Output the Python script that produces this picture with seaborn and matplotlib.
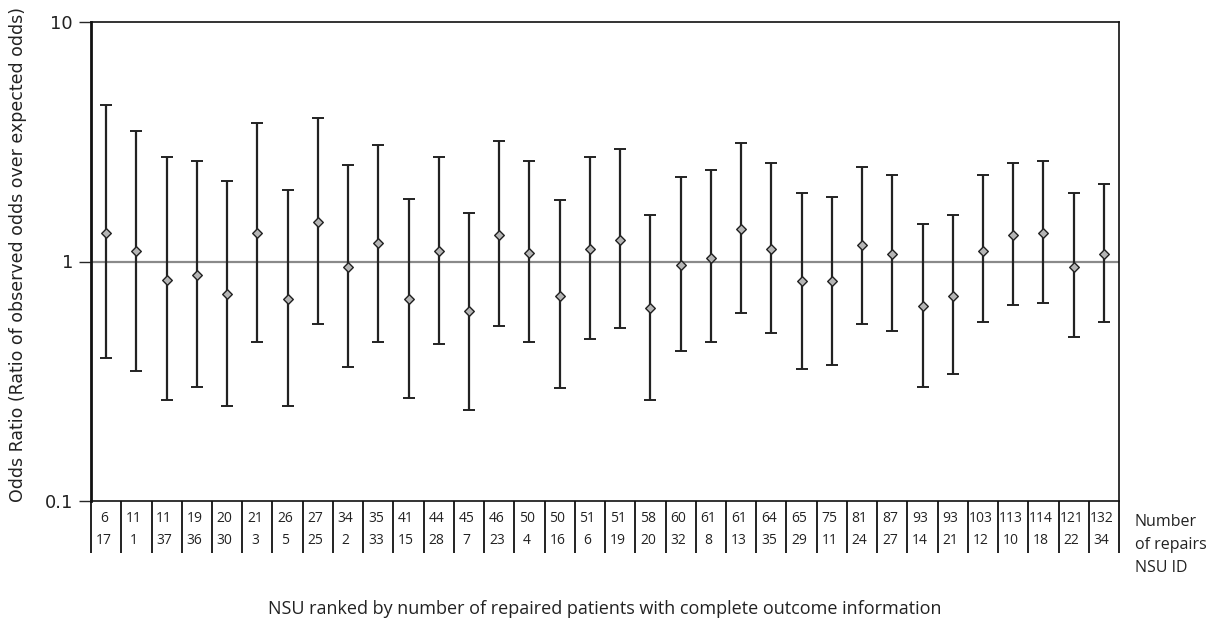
import numpy as np
import matplotlib
matplotlib.use("Agg")
import matplotlib.pyplot as plt
import matplotlib.transforms as mtransforms
import seaborn as sns

# NSUs ranked by number of repairs
n_repairs = [6, 11, 11, 19, 20, 21, 26, 27, 34, 35, 41, 44, 45, 46, 50, 50, 51,
             51, 58, 60, 61, 61, 64, 65, 75, 81, 87, 93, 93, 103, 113, 114, 121, 132]
nsu_id = [17, 1, 37, 36, 30, 3, 5, 25, 2, 33, 15, 28, 7, 23, 4, 16, 6,
          19, 20, 32, 8, 13, 35, 29, 11, 24, 27, 14, 21, 12, 10, 18, 22, 34]

odds_ratio = [1.32, 1.11, 0.84, 0.88, 0.735, 1.32, 0.70, 1.46, 0.953, 1.19, 0.70, 1.11,
              0.62, 1.29, 1.09, 0.72, 1.13, 1.23, 0.64, 0.965, 1.036, 1.365, 1.13,
              0.827, 0.827, 1.17, 1.07, 0.65, 0.72, 1.11, 1.29, 1.32, 0.953, 1.07]
ci_low = [0.395, 0.350, 0.265, 0.300, 0.249, 0.463, 0.249, 0.549, 0.362, 0.463, 0.270,
          0.453, 0.239, 0.538, 0.463, 0.295, 0.476, 0.530, 0.265, 0.424, 0.461, 0.608,
          0.503, 0.356, 0.368, 0.549, 0.513, 0.300, 0.339, 0.557, 0.661, 0.674, 0.486, 0.557]
ci_high = [4.49, 3.51, 2.72, 2.63, 2.17, 3.78, 1.995, 3.97, 2.53, 3.07, 1.83, 2.72,
           1.59, 3.17, 2.63, 1.80, 2.72, 2.96, 1.56, 2.25, 2.41, 3.13, 2.59, 1.93,
           1.86, 2.49, 2.29, 1.44, 1.56, 2.29, 2.59, 2.63, 1.93, 2.10]

sns.set_style("white")
plt.rcParams['font.family'] = ['DejaVu Sans']

fig = plt.figure(figsize=(12.19, 6.25), dpi=100)
ax = fig.add_axes([0.0747, 0.1984, 0.8433, 0.7664])

x = np.arange(len(odds_ratio))
or_arr = np.array(odds_ratio)
yerr = np.vstack([or_arr - np.array(ci_low), np.array(ci_high) - or_arr])

ax.axhline(1, color='#8a8a8a', lw=1.6, zorder=1)
ax.errorbar(x, or_arr, yerr=yerr, fmt='none', ecolor='#222222', elinewidth=1.6,
            capsize=4.3, capthick=1.4, zorder=2)
sns.scatterplot(x=x, y=or_arr, marker='D', s=24, color='#b5b5b5',
                edgecolor='#222222', linewidth=1.0, zorder=3, ax=ax)

ax.set_yscale('log')
ax.set_ylim(0.1, 10)
ax.set_xlim(-0.5, len(x) - 0.5)
ax.set_yticks([0.1, 1, 10])
ax.set_yticklabels(['0.1', '1', '10'], fontsize=13, color='#222222')
ax.yaxis.set_minor_locator(matplotlib.ticker.NullLocator())
ax.tick_params(axis='y', direction='out', length=9, width=1, left=True, pad=4)
ax.set_xticks([])
for side in ['left', 'right', 'top', 'bottom']:
    ax.spines[side].set_color('#111111')
    ax.spines[side].set_linewidth(1.2)
ax.spines['left'].set_linewidth(2)

ax.set_ylabel('Odds Ratio (Ratio of observed odds over expected odds)', fontsize=12.5,
              color='#222222')
ax.yaxis.set_label_coords(-0.062, 0.515)

# table under the axis
trans = mtransforms.blended_transform_factory(ax.transData, ax.transAxes)
bounds = np.arange(len(x) + 1) - 0.5
ax.vlines(bounds, -0.108, 0, transform=trans, colors='#111111', lw=1.3, clip_on=False)
for i in x:
    ax.text(i - 0.08, -0.037, str(n_repairs[i]), transform=trans, ha='center', va='center',
            fontsize=10, family='Open Sans', color='#222222')
    ax.text(i - 0.08, -0.083, str(nsu_id[i]), transform=trans, ha='center', va='center',
            fontsize=10, family='Open Sans', color='#222222')

for lab, ypix in [('Number', 522), ('of repairs', 545), ('NSU ID', 568)]:
    fig.text(1135 / 1219, 1 - ypix / 625, lab, fontsize=11.5, family='Open Sans',
             ha='left', va='center', color='#222222')

fig.text(605 / 1219, 1 - 609 / 625,
         'NSU ranked by number of repaired patients with complete outcome information',
         fontsize=13, family='Open Sans', ha='center', va='center', color='#222222')

fig.savefig('out.png', dpi=100)
